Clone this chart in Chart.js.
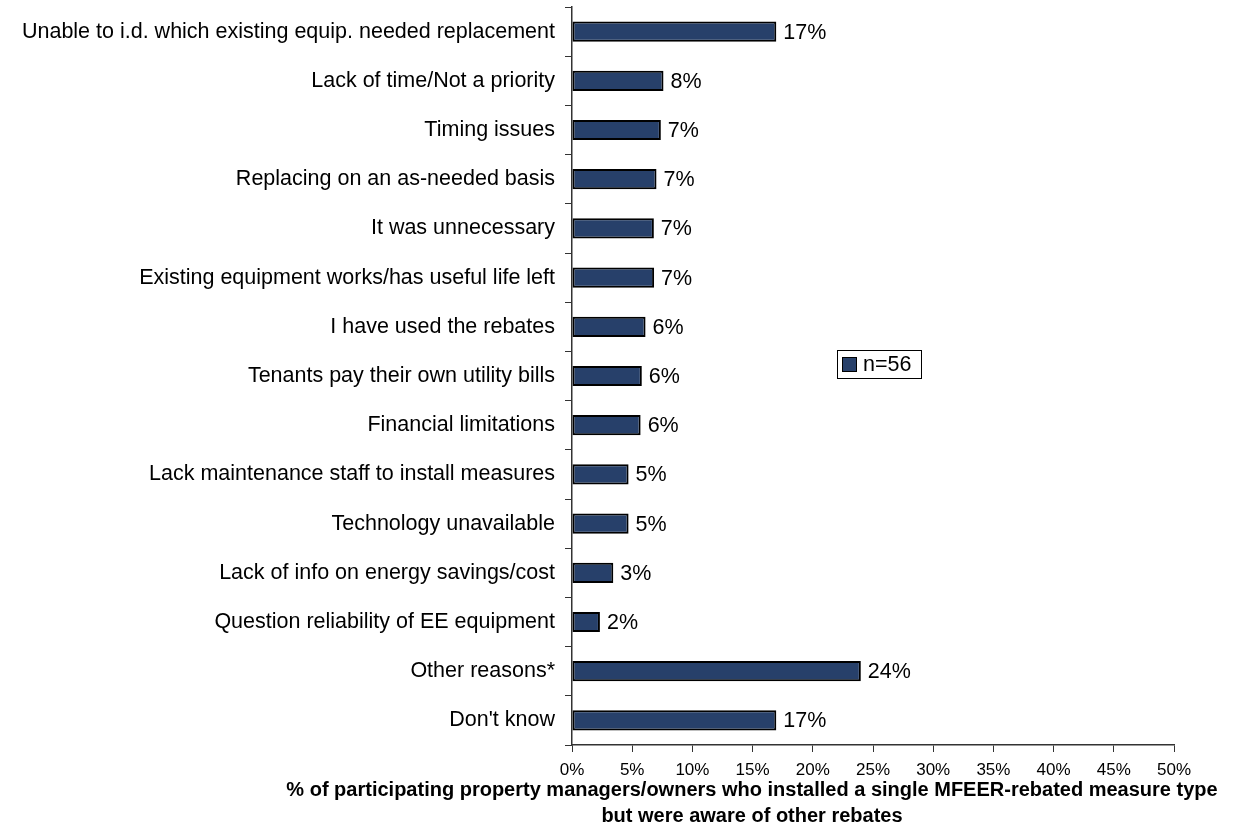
<!DOCTYPE html>
<html>
<head>
<meta charset="utf-8">
<title>Reasons for not using other rebates</title>
<script src="https://cdn.jsdelivr.net/npm/chart.js@4.4.0/dist/chart.umd.min.js"></script>
<style>
  html, body { margin: 0; padding: 0; background: #fff; }
  #wrap { width: 1236px; height: 827px; }
</style>
</head>
<body>
<div id="wrap"><canvas id="razones" width="1236" height="827"></canvas></div>
<script>
const categories = [
  'Unable to i.d. which existing equip. needed replacement',
  'Lack of time/Not a priority',
  'Timing issues',
  'Replacing on an as-needed basis',
  'It was unnecessary',
  'Existing equipment works/has useful life left',
  'I have used the rebates',
  'Tenants pay their own utility bills',
  'Financial limitations',
  'Lack maintenance staff to install measures',
  'Technology unavailable',
  'Lack of info on energy savings/cost',
  'Question reliability of EE equipment',
  'Other reasons*',
  "Don't know"
];
const shares = [16.97, 7.6, 7.38, 7.02, 6.8, 6.82, 6.11, 5.8, 5.7, 4.7, 4.7, 3.43, 2.32, 23.99, 16.97];
const axisMax = 50;
const axisStep = 5;
const seriesLabel = 'n=56';
const axisTitle = [
  '% of participating property managers/owners who installed a single MFEER-rebated measure type',
  'but were aware of other rebates'
];

const FUENTE = "'Liberation Sans', Arial, sans-serif";
const AZUL = '#27406a';

// etiquetas de porcentaje al final de cada barra
const etiquetasBarras = {
  id: 'etiquetasBarras',
  afterDatasetsDraw(chart) {
    const ctx = chart.ctx;
    const meta = chart.getDatasetMeta(0);
    ctx.save();
    ctx.font = '21.5px ' + FUENTE;
    ctx.fillStyle = '#000';
    ctx.textAlign = 'left';
    ctx.textBaseline = 'middle';
    meta.data.forEach((barra, i) => {
      const v = chart.data.datasets[0].data[i];
      ctx.fillText(Math.round(v) + '%', barra.x + 7, barra.y + 1);
    });
    ctx.restore();
  }
};

// leyenda con recuadro dentro del area del grafico
const leyendaCaja = {
  id: 'leyendaCaja',
  afterDraw(chart) {
    const ctx = chart.ctx;
    const ca = chart.chartArea;
    const x = ca.left + 265, y = ca.top + 343;
    ctx.save();
    ctx.strokeStyle = '#000';
    ctx.lineWidth = 1;
    ctx.fillStyle = '#fff';
    ctx.fillRect(x, y, 84, 28);
    ctx.strokeRect(x + 0.5, y + 0.5, 84, 28);
    ctx.fillStyle = AZUL;
    ctx.fillRect(x + 5, y + 7, 14, 14);
    ctx.strokeRect(x + 5.5, y + 7.5, 14, 14);
    ctx.fillStyle = '#000';
    ctx.font = '21.5px ' + FUENTE;
    ctx.textBaseline = 'middle';
    ctx.fillText(chart.data.datasets[0].label, x + 26, y + 15);
    ctx.restore();
  }
};

// titulo del eje x en dos lineas
const tituloEje = {
  id: 'tituloEje',
  afterDraw(chart) {
    const ctx = chart.ctx;
    ctx.save();
    ctx.font = 'bold 20px ' + FUENTE;
    ctx.fillStyle = '#000';
    ctx.textAlign = 'center';
    ctx.textBaseline = 'middle';
    ctx.fillText(axisTitle[0], 752, 790);
    ctx.fillText(axisTitle[1], 752, 816);
    ctx.restore();
  }
};

new Chart(document.getElementById('razones'), {
  type: 'bar',
  data: {
    labels: categories,
    datasets: [{
      label: seriesLabel,
      data: shares,
      backgroundColor: AZUL,
      borderColor: '#000',
      borderWidth: 2,
      borderSkipped: false,
      barPercentage: 0.41,
      categoryPercentage: 1.0
    }]
  },
  options: {
    indexAxis: 'y',
    responsive: false,
    animation: false,
    layout: { padding: { left: 0, right: 62, top: 7, bottom: 0 } },
    plugins: {
      legend: { display: false },
      tooltip: { enabled: false }
    },
    scales: {
      x: {
        min: 0,
        max: axisMax,
        afterFit: s => { s.height = 82; },
        ticks: {
          stepSize: axisStep,
          padding: 8,
          color: '#000',
          font: { family: FUENTE, size: 17 },
          callback: v => v + '%'
        },
        grid: { drawOnChartArea: false, tickLength: 7, color: '#333', lineWidth: 1 },
        border: { color: '#333', width: 1.5 }
      },
      y: {
        afterFit: s => {
          s.width = 572;
          s.paddingTop = 0;
          s.paddingBottom = 0;
        },
        ticks: {
          padding: 10,
          color: '#000',
          font: { family: FUENTE, size: 21.5 }
        },
        grid: { offset: true, drawOnChartArea: false, tickLength: 7, color: '#333', lineWidth: 1 },
        border: { color: '#333', width: 1.5 }
      }
    }
  },
  plugins: [etiquetasBarras, leyendaCaja, tituloEje]
});
</script>
</body>
</html>
